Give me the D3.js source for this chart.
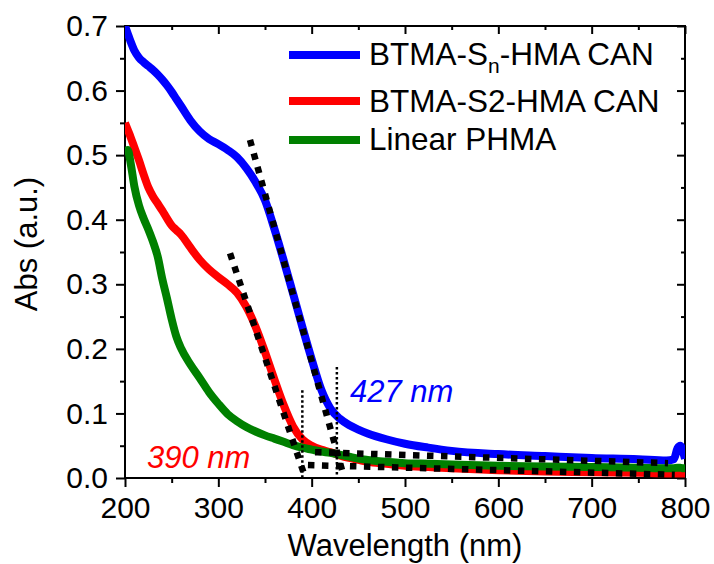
<!DOCTYPE html>
<html>
    <head>
        <meta charset="utf-8">
        <script src="https://d3js.org/d3.v7.min.js"></script>
        <style>
            body {
                margin: 0;
                background: #ffffff;
            }

            #uv-svg .font {
                font-family: "Liberation Sans", Arial, sans-serif;
            }

            #uv-svg .axis path {
                display: none;
            }

            #uv-svg .axis line {
                stroke: #000000;
                stroke-width: 2;
            }

            #uv-svg .axis text {
                font-family: "Liberation Sans", Arial, sans-serif;
                font-size: 30px;
                fill: #000000;
            }

            #uv-svg .frame {
                fill: none;
                stroke: #000000;
                stroke-width: 2;
            }

            #uv-svg .curve {
                fill: none;
                stroke-width: 8;
                stroke-linejoin: round;
            }

            #uv-svg .tangent {
                fill: none;
                stroke: #000000;
                stroke-width: 6.5;
                stroke-dasharray: 6.5, 7.5;
            }

            #uv-svg .marker {
                fill: none;
                stroke: #000000;
                stroke-width: 2.5;
                stroke-dasharray: 2.5, 2.5;
            }

            #uv-svg .title {
                font-size: 31px;
                fill: #000000;
            }

            #uv-svg .legend {
                font-size: 31.5px;
                fill: #000000;
            }

            #uv-svg .note {
                font-size: 31px;
                font-style: italic;
            }
        </style>
    </head>
    <body>

        <script>

            const SVG_WIDTH = 714;
            const SVG_HEIGHT = 564;
            const PLOT_LEFT = 125;
            const PLOT_RIGHT = 685;
            const PLOT_TOP = 26;
            const PLOT_BOTTOM = 478;

            // wavelength (nm)
            const WAVELENGTH = [200, 203, 206, 210, 215, 220, 225, 230, 235, 240,
                245, 250, 255, 260, 270, 280, 290, 300, 310, 320,
                330, 340, 350, 360, 370, 380, 390, 400, 410, 420,
                430, 440, 450, 460, 480, 500, 525, 550, 600, 650,
                700, 750, 780, 788, 792, 795, 798, 800];
            const ABS_SN = [0.700, 0.688, 0.676, 0.662, 0.651, 0.644, 0.638, 0.632, 0.625, 0.617,
                0.608, 0.598, 0.587, 0.576, 0.554, 0.537, 0.525, 0.517, 0.508, 0.497,
                0.480, 0.458, 0.430, 0.386, 0.337, 0.286, 0.234, 0.184, 0.138, 0.108,
                0.092, 0.082, 0.075, 0.069, 0.060, 0.053, 0.047, 0.042, 0.037, 0.034,
                0.031, 0.029, 0.027, 0.029, 0.046, 0.050, 0.040, 0.030];
            const ABS_S2 = [0.550, 0.539, 0.528, 0.512, 0.492, 0.470, 0.450, 0.436, 0.425, 0.414,
                0.402, 0.391, 0.384, 0.377, 0.357, 0.338, 0.323, 0.311, 0.300, 0.287,
                0.265, 0.234, 0.195, 0.153, 0.113, 0.080, 0.060, 0.050, 0.044, 0.040,
                0.035, 0.031, 0.028, 0.025, 0.022, 0.019, 0.017, 0.015, 0.012, 0.010,
                0.009, 0.008, 0.007, 0.007, 0.007, 0.007, 0.007, 0.007];
            const ABS_PHMA = [0.500, 0.508, 0.488, 0.452, 0.422, 0.402, 0.385, 0.366, 0.343, 0.308,
                0.278, 0.246, 0.219, 0.201, 0.176, 0.155, 0.133, 0.115, 0.099, 0.088,
                0.079, 0.072, 0.066, 0.061, 0.056, 0.051, 0.047, 0.044, 0.041, 0.039,
                0.036, 0.033, 0.030, 0.028, 0.025, 0.023, 0.022, 0.021, 0.019, 0.018,
                0.017, 0.016, 0.015, 0.015, 0.016, 0.016, 0.015, 0.015];

            const SERIES_NAMES = ["BTMA-Sn-HMA CAN", "BTMA-S2-HMA CAN", "Linear PHMA"];
            const SERIES_COLORS = ["#0000ff", "#ff0000", "#008000"];

            // onset construction lines [wavelength, abs]
            const TANGENT_SN = [[333.9, 0.5235], [434.6, 0.0015]];
            const TANGENT_S2 = [[312.5, 0.348], [392.9, 0.0015]];
            const BASE_SN = [[403.6, 0.040], [781.8, 0.023]];
            const BASE_S2 = [[396.0, 0.020], [789.0, 0.005]];
            const ONSET_SN = [[427, 0.172], [427, 0.0]];
            const ONSET_S2 = [[390, 0.136], [390, 0.0]];

            const X_TICKS = [200, 300, 400, 500, 600, 700, 800];
            const X_MINOR = [250, 350, 450, 550, 650, 750];
            const Y_TICKS = [0.0, 0.1, 0.2, 0.3, 0.4, 0.5, 0.6, 0.7];
            const Y_MINOR = [0.05, 0.15, 0.25, 0.35, 0.45, 0.55, 0.65];

            var svg = d3.select("body")
                .append("svg")
                .attr("width", SVG_WIDTH)
                .attr("height", SVG_HEIGHT)
                .attr("id", "uv-svg");

            var xScale = d3.scaleLinear()
                .domain([200, 800])
                .range([PLOT_LEFT, PLOT_RIGHT]);
            var yScale = d3.scaleLinear()
                .domain([0, 0.7])
                .range([PLOT_BOTTOM, PLOT_TOP]);

            svg.append("clipPath")
                .attr("id", "plot-clip")
                .append("rect")
                .attr("x", PLOT_LEFT)
                .attr("y", PLOT_TOP)
                .attr("width", PLOT_RIGHT - PLOT_LEFT)
                .attr("height", PLOT_BOTTOM - PLOT_TOP);

            // axes
            function addAxis(axis, tx, ty) {
                svg.append("g")
                    .classed("axis", true)
                    .attr("transform", "translate(" + tx + "," + ty + ")")
                    .call(axis);
            }
            addAxis(d3.axisBottom(xScale).tickValues(X_TICKS).tickSize(9).tickPadding(10)
                .tickFormat(d3.format("d")), 0, PLOT_BOTTOM);
            addAxis(d3.axisBottom(xScale).tickValues(X_MINOR).tickSize(5).tickFormat(""), 0, PLOT_BOTTOM);
            addAxis(d3.axisTop(xScale).tickValues(X_TICKS).tickSize(-8).tickFormat(""), 0, PLOT_TOP);
            addAxis(d3.axisTop(xScale).tickValues(X_MINOR).tickSize(-4).tickFormat(""), 0, PLOT_TOP);
            addAxis(d3.axisLeft(yScale).tickValues(Y_TICKS).tickSize(9).tickPadding(8)
                .tickFormat(d3.format(".1f")), PLOT_LEFT, 0);
            addAxis(d3.axisLeft(yScale).tickValues(Y_MINOR).tickSize(5).tickFormat(""), PLOT_LEFT, 0);
            addAxis(d3.axisRight(yScale).tickValues(Y_TICKS).tickSize(-8).tickFormat(""), PLOT_RIGHT, 0);
            addAxis(d3.axisRight(yScale).tickValues(Y_MINOR).tickSize(-4).tickFormat(""), PLOT_RIGHT, 0);

            svg.append("rect")
                .classed("frame", true)
                .attr("x", PLOT_LEFT)
                .attr("y", PLOT_TOP)
                .attr("width", PLOT_RIGHT - PLOT_LEFT)
                .attr("height", PLOT_BOTTOM - PLOT_TOP);

            // curves
            var line = d3.line()
                .x(function(d) {
                    return xScale(d[0]);
                })
                .y(function(d) {
                    return yScale(d[1]);
                })
                .curve(d3.curveMonotoneX);
            var seriesValues = [ABS_SN, ABS_S2, ABS_PHMA];
            var curveGroup = svg.append("g").attr("clip-path", "url(#plot-clip)");
            for (var i = 0; i < seriesValues.length; i++) {
                var points = WAVELENGTH.map(function(w, j) {
                    return [w, seriesValues[i][j]];
                });
                curveGroup.append("path")
                    .datum(points)
                    .classed("curve", true)
                    .attr("stroke", SERIES_COLORS[i])
                    .attr("d", line);
            }

            var straight = d3.line()
                .x(function(d) {
                    return xScale(d[0]);
                })
                .y(function(d) {
                    return yScale(d[1]);
                });
            [TANGENT_SN, TANGENT_S2, BASE_SN, BASE_S2].forEach(function(seg) {
                svg.append("path")
                    .datum(seg)
                    .classed("tangent", true)
                    .attr("d", straight);
            });
            [ONSET_SN, ONSET_S2].forEach(function(seg) {
                svg.append("path")
                    .datum(seg)
                    .classed("marker", true)
                    .attr("d", straight);
            });

            // onset labels
            svg.append("text")
                .classed("font note", true)
                .attr("x", 350)
                .attr("y", 402)
                .attr("fill", SERIES_COLORS[0])
                .text("427 nm");
            svg.append("text")
                .classed("font note", true)
                .attr("x", 147)
                .attr("y", 468)
                .attr("fill", SERIES_COLORS[1])
                .text("390 nm");

            // legend
            var legendY = [55, 101, 140];
            var legendBase = [65, 112, 150];
            for (var k = 0; k < SERIES_NAMES.length; k++) {
                svg.append("line")
                    .attr("x1", 289)
                    .attr("x2", 360)
                    .attr("y1", legendY[k])
                    .attr("y2", legendY[k])
                    .attr("stroke", SERIES_COLORS[k])
                    .attr("stroke-width", 8);
                var label = svg.append("text")
                    .classed("font legend", true)
                    .attr("x", 369)
                    .attr("y", legendBase[k]);
                if (k === 0) {
                    label.append("tspan").text("BTMA-S");
                    label.append("tspan")
                        .attr("font-size", "21px")
                        .attr("dy", 8)
                        .text("n");
                    label.append("tspan")
                        .attr("dy", -8)
                        .text("-HMA CAN");
                } else {
                    label.text(SERIES_NAMES[k]);
                }
            }

            // axis titles
            svg.append("text")
                .classed("font title", true)
                .attr("x", (PLOT_LEFT + PLOT_RIGHT) / 2)
                .attr("y", 556)
                .attr("text-anchor", "middle")
                .text("Wavelength (nm)");
            svg.append("text")
                .classed("font title", true)
                .attr("transform", "translate(37, 244) rotate(-90)")
                .attr("text-anchor", "middle")
                .text("Abs (a.u.)");
        </script>
    </body>
</html>
